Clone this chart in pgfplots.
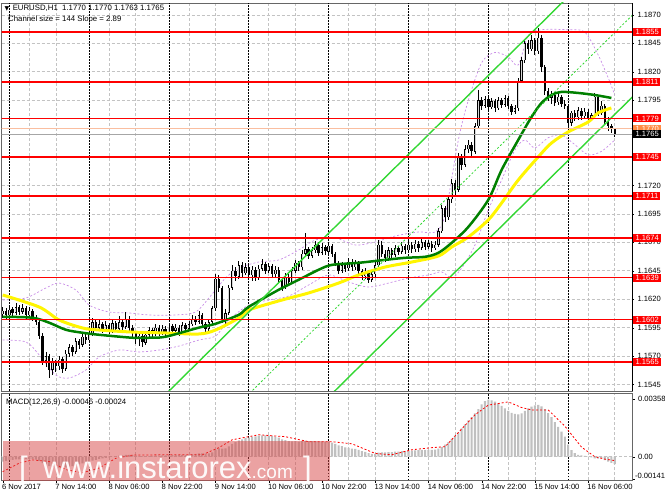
\documentclass[border=0pt]{standalone}
\usepackage{pgfplots}
\pgfplotsset{compat=1.18}
\usepackage{pgfplotstable}
\usepackage{fontspec}
\setmainfont{Liberation Sans}
\newfontfamily\symfont{DejaVu Sans}

\definecolor{levelred}{RGB}{255,0,0}
\definecolor{magreen}{RGB}{0,128,0}
\definecolor{mayellow}{RGB}{255,245,0}
\definecolor{chgreen}{RGB}{50,215,50}
\definecolor{bandviolet}{RGB}{200,140,230}
\definecolor{histgray}{RGB}{192,192,192}
\definecolor{gridgray}{RGB}{195,195,195}
\definecolor{wmred}{RGB}{215,70,70}
\definecolor{askorange}{RGB}{255,140,70}
\definecolor{asksalmon}{RGB}{250,190,160}
\definecolor{bullfill}{RGB}{215,215,215}

\newcommand{\lab}{\fontsize{7.6}{9}\selectfont}

% EURUSD H1 candles: bar index, open, high, low, close, MACD main
\pgfplotstableread{
i o h l c m
0 1.1607 1.1613 1.1604 1.1610 -0.00030
1 1.1610 1.1612 1.1603 1.1606 -0.00026
2 1.1606 1.1614 1.1604 1.1611 -0.00022
3 1.1611 1.1613 1.1605 1.1608 -0.00020
4 1.1608 1.1617 1.1606 1.1613 -0.00017
5 1.1613 1.1615 1.1606 1.1609 -0.00016
6 1.1609 1.1616 1.1607 1.1612 -0.00014
7 1.1612 1.1614 1.1603 1.1606 -0.00015
8 1.1606 1.1613 1.1604 1.1610 -0.00013
9 1.1610 1.1611 1.1601 1.1604 -0.00015
10 1.1604 1.1606 1.1597 1.1600 -0.00018
11 1.1600 1.1602 1.1585 1.1588 -0.00026
12 1.1588 1.1590 1.1562 1.1566 -0.00040
13 1.1566 1.1574 1.1560 1.1570 -0.00048
14 1.1570 1.1572 1.1551 1.1558 -0.00058
15 1.1558 1.1568 1.1553 1.1565 -0.00063
16 1.1565 1.1567 1.1556 1.1561 -0.00067
17 1.1561 1.1570 1.1558 1.1567 -0.00068
18 1.1567 1.1569 1.1555 1.1559 -0.00070
19 1.1559 1.1575 1.1557 1.1572 -0.00066
20 1.1572 1.1581 1.1569 1.1578 -0.00061
21 1.1578 1.1580 1.1570 1.1574 -0.00058
22 1.1574 1.1586 1.1572 1.1583 -0.00052
23 1.1583 1.1585 1.1576 1.1580 -0.00048
24 1.1580 1.1590 1.1578 1.1587 -0.00042
25 1.1587 1.1589 1.1581 1.1584 -0.00038
26 1.1584 1.1593 1.1582 1.1590 -0.00032
27 1.1590 1.1604 1.1588 1.1600 -0.00024
28 1.1600 1.1603 1.1592 1.1595 -0.00019
29 1.1595 1.1602 1.1593 1.1598 -0.00014
30 1.1598 1.1600 1.1590 1.1593 -0.00011
31 1.1593 1.1601 1.1591 1.1597 -0.00007
32 1.1597 1.1599 1.1589 1.1592 -0.00004
33 1.1592 1.1603 1.1590 1.1599 0.00000
34 1.1599 1.1601 1.1591 1.1594 0.00003
35 1.1594 1.1605 1.1592 1.1600 0.00006
36 1.1600 1.1602 1.1593 1.1596 0.00008
37 1.1596 1.1609 1.1594 1.1603 0.00011
38 1.1603 1.1605 1.1592 1.1595 0.00011
39 1.1595 1.1597 1.1587 1.1590 0.00009
40 1.1590 1.1592 1.1581 1.1585 0.00006
41 1.1585 1.1591 1.1579 1.1588 0.00005
42 1.1588 1.1590 1.1578 1.1582 0.00003
43 1.1582 1.1592 1.1580 1.1589 0.00003
44 1.1589 1.1596 1.1586 1.1593 0.00004
45 1.1593 1.1595 1.1587 1.1590 0.00005
46 1.1590 1.1598 1.1588 1.1595 0.00006
47 1.1595 1.1597 1.1588 1.1591 0.00007
48 1.1591 1.1597 1.1589 1.1594 0.00008
49 1.1594 1.1596 1.1587 1.1590 0.00008
50 1.1590 1.1599 1.1588 1.1596 0.00009
51 1.1596 1.1598 1.1589 1.1592 0.00009
52 1.1592 1.1598 1.1590 1.1595 0.00010
53 1.1595 1.1597 1.1588 1.1591 0.00010
54 1.1591 1.1600 1.1589 1.1597 0.00011
55 1.1597 1.1599 1.1591 1.1594 0.00012
56 1.1594 1.1601 1.1592 1.1598 0.00013
57 1.1598 1.1606 1.1596 1.1603 0.00015
58 1.1603 1.1605 1.1597 1.1600 0.00017
59 1.1600 1.1610 1.1598 1.1606 0.00020
60 1.1606 1.1608 1.1595 1.1598 0.00020
61 1.1598 1.1600 1.1590 1.1594 0.00019
62 1.1594 1.1603 1.1592 1.1600 0.00021
63 1.1600 1.1614 1.1598 1.1612 0.00027
64 1.1612 1.1642 1.1610 1.1638 0.00042
65 1.1638 1.1641 1.1626 1.1630 0.00052
66 1.1630 1.1632 1.1599 1.1602 0.00050
67 1.1602 1.1611 1.1598 1.1608 0.00052
68 1.1608 1.1633 1.1606 1.1630 0.00064
69 1.1630 1.1650 1.1628 1.1645 0.00080
70 1.1645 1.1648 1.1636 1.1640 0.00090
71 1.1640 1.1654 1.1638 1.1650 0.00102
72 1.1650 1.1653 1.1640 1.1643 0.00108
73 1.1643 1.1652 1.1641 1.1648 0.00115
74 1.1648 1.1650 1.1638 1.1641 0.00119
75 1.1641 1.1649 1.1636 1.1646 0.00124
76 1.1646 1.1648 1.1636 1.1639 0.00126
77 1.1639 1.1650 1.1637 1.1647 0.00130
78 1.1647 1.1655 1.1645 1.1651 0.00133
79 1.1651 1.1653 1.1642 1.1645 0.00132
80 1.1645 1.1652 1.1643 1.1649 0.00131
81 1.1649 1.1651 1.1639 1.1642 0.00128
82 1.1642 1.1649 1.1640 1.1646 0.00125
83 1.1646 1.1648 1.1634 1.1637 0.00118
84 1.1637 1.1639 1.1627 1.1631 0.00108
85 1.1631 1.1643 1.1629 1.1640 0.00103
86 1.1640 1.1642 1.1632 1.1635 0.00097
87 1.1635 1.1648 1.1633 1.1645 0.00095
88 1.1645 1.1655 1.1643 1.1652 0.00096
89 1.1652 1.1654 1.1645 1.1648 0.00094
90 1.1648 1.1663 1.1646 1.1660 0.00097
91 1.1660 1.1678 1.1658 1.1664 0.00100
92 1.1664 1.1666 1.1655 1.1658 0.00097
93 1.1658 1.1666 1.1656 1.1663 0.00096
94 1.1663 1.1671 1.1661 1.1668 0.00097
95 1.1668 1.1670 1.1658 1.1661 0.00094
96 1.1661 1.1669 1.1659 1.1666 0.00093
97 1.1666 1.1668 1.1659 1.1662 0.00090
98 1.1662 1.1670 1.1660 1.1667 0.00090
99 1.1667 1.1669 1.1657 1.1660 0.00087
100 1.1660 1.1662 1.1649 1.1652 0.00080
101 1.1652 1.1654 1.1642 1.1645 0.00070
102 1.1645 1.1653 1.1643 1.1650 0.00065
103 1.1650 1.1652 1.1644 1.1647 0.00058
104 1.1647 1.1656 1.1645 1.1653 0.00055
105 1.1653 1.1655 1.1645 1.1648 0.00050
106 1.1648 1.1655 1.1646 1.1652 0.00048
107 1.1652 1.1654 1.1642 1.1645 0.00042
108 1.1645 1.1647 1.1637 1.1640 0.00035
109 1.1640 1.1647 1.1638 1.1644 0.00030
110 1.1644 1.1646 1.1634 1.1637 0.00022
111 1.1637 1.1645 1.1635 1.1642 0.00018
112 1.1642 1.1653 1.1640 1.1650 0.00017
113 1.1650 1.1672 1.1648 1.1668 0.00025
114 1.1668 1.1671 1.1657 1.1660 0.00027
115 1.1660 1.1663 1.1653 1.1656 0.00027
116 1.1656 1.1666 1.1654 1.1663 0.00029
117 1.1663 1.1665 1.1656 1.1659 0.00029
118 1.1659 1.1668 1.1657 1.1665 0.00031
119 1.1665 1.1667 1.1659 1.1662 0.00032
120 1.1662 1.1670 1.1660 1.1667 0.00034
121 1.1667 1.1669 1.1660 1.1663 0.00034
122 1.1663 1.1671 1.1661 1.1668 0.00036
123 1.1668 1.1670 1.1661 1.1664 0.00037
124 1.1664 1.1672 1.1662 1.1669 0.00039
125 1.1669 1.1671 1.1662 1.1665 0.00040
126 1.1665 1.1673 1.1663 1.1670 0.00042
127 1.1670 1.1672 1.1663 1.1666 0.00042
128 1.1666 1.1672 1.1664 1.1669 0.00043
129 1.1669 1.1671 1.1662 1.1665 0.00043
130 1.1665 1.1671 1.1663 1.1668 0.00044
131 1.1668 1.1683 1.1666 1.1680 0.00050
132 1.1680 1.1703 1.1678 1.1700 0.00060
133 1.1700 1.1702 1.1688 1.1692 0.00075
134 1.1692 1.1711 1.1690 1.1708 0.00090
135 1.1708 1.1726 1.1705 1.1722 0.00110
136 1.1722 1.1725 1.1712 1.1716 0.00130
137 1.1716 1.1749 1.1714 1.1745 0.00150
138 1.1745 1.1748 1.1734 1.1738 0.00175
139 1.1738 1.1756 1.1736 1.1752 0.00200
140 1.1752 1.1760 1.1749 1.1756 0.00225
141 1.1756 1.1758 1.1746 1.1750 0.00245
142 1.1750 1.1775 1.1748 1.1772 0.00268
143 1.1772 1.1804 1.1770 1.1795 0.00295
144 1.1795 1.1798 1.1786 1.1790 0.00325
145 1.1790 1.1799 1.1788 1.1796 0.00345
146 1.1796 1.1798 1.1786 1.1789 0.00354
147 1.1789 1.1797 1.1787 1.1794 0.00350
148 1.1794 1.1796 1.1785 1.1788 0.00342
149 1.1788 1.1798 1.1786 1.1795 0.00330
150 1.1795 1.1797 1.1788 1.1791 0.00315
151 1.1791 1.1800 1.1789 1.1797 0.00300
152 1.1797 1.1799 1.1787 1.1790 0.00285
153 1.1790 1.1792 1.1782 1.1785 0.00272
154 1.1785 1.1791 1.1783 1.1788 0.00265
155 1.1788 1.1815 1.1786 1.1812 0.00262
156 1.1812 1.1833 1.1810 1.1830 0.00268
157 1.1830 1.1849 1.1828 1.1845 0.00285
158 1.1845 1.1848 1.1836 1.1840 0.00300
159 1.1840 1.1852 1.1838 1.1848 0.00310
160 1.1848 1.1850 1.1835 1.1838 0.00318
161 1.1838 1.1859 1.1836 1.1850 0.00322
162 1.1850 1.1852 1.1820 1.1824 0.00312
163 1.1824 1.1826 1.1800 1.1803 0.00295
164 1.1803 1.1806 1.1794 1.1797 0.00270
165 1.1797 1.1803 1.1792 1.1800 0.00245
166 1.1800 1.1802 1.1790 1.1793 0.00215
167 1.1793 1.1801 1.1791 1.1798 0.00185
168 1.1798 1.1800 1.1789 1.1792 0.00155
169 1.1792 1.1795 1.1787 1.1790 0.00124
170 1.1790 1.1792 1.1769 1.1775 0.00075
171 1.1775 1.1786 1.1772 1.1784 0.00040
172 1.1784 1.1786 1.1777 1.1780 0.00022
173 1.1780 1.1789 1.1778 1.1786 0.00012
174 1.1786 1.1788 1.1778 1.1781 0.00008
175 1.1781 1.1788 1.1779 1.1785 0.00005
176 1.1785 1.1787 1.1776 1.1779 0.00002
177 1.1779 1.1784 1.1777 1.1782 -0.00005
178 1.1782 1.1801 1.1780 1.1798 -0.00010
179 1.1798 1.1800 1.1781 1.1784 -0.00012
180 1.1784 1.1794 1.1782 1.1790 -0.00008
181 1.1790 1.1792 1.1774 1.1776 -0.00022
182 1.1776 1.1780 1.1768 1.1772 -0.00030
183 1.1772 1.1774 1.1766 1.1770 -0.00038
184 1.1770 1.1770 1.1763 1.1765 -0.00046
}\candles

\begin{document}
\begin{tikzpicture}[x=1pt,y=1pt]
\path[use as bounding box] (0,0) rectangle (665,499);

% ---------------- price pane ----------------
\begin{axis}[
  at={(1.5pt,108pt)}, anchor=south west, scale only axis,
  width=630.5pt, height=388pt,
  xmin=-0.35, xmax=189.2, ymin=1.153926, ymax=1.188051,
  axis line style={black!60, line width=0.8pt},
  tick label style={font=\lab},
  grid=major,
  grid style={gridgray, dash pattern=on 3pt off 2pt, line width=0.6pt},
  xtick={8,16,32,40,56,64,80,88,104,112,128,136,152,160,176,184},
  xticklabels={}, xtick style={draw=none},
  extra x ticks={2,26,50,74,98,122,146,170},
  extra x tick labels={},
  extra x tick style={grid=major, tick style={draw=none},
    grid style={black, dash pattern=on 1.5pt off 1.5pt, line width=0.7pt}},
  ytick={1.1545,1.157,1.1595,1.162,1.1645,1.167,1.1695,1.172,1.1745,1.177,1.1795,1.182,1.1845,1.187},
  yticklabels={1.1545,1.1570,1.1595,1.1620,1.1645,1.1670,1.1695,1.1720,,,1.1795,1.1820,1.1845,1.1870},
  ytick pos=right, yticklabel pos=right, tick align=outside,
  major tick length=2pt, ytick style={black},
  extra y ticks={1.1565,1.1602,1.1639,1.1674,1.1711,1.1745,1.1779,1.1811,1.1855},
  extra y tick labels={1.1565,1.1602,1.1639,1.1674,1.1711,1.1745,1.1779,1.1811,1.1855},
  extra y tick style={grid=none, tick style={draw=none},
    yticklabel style={fill=levelred, text=white, inner xsep=2.2pt, inner ysep=1pt,
      text height=5.6pt, text depth=0.4pt, xshift=-0.8pt}},
]
% Bollinger-type envelope (violet dashed)
\addplot[bandviolet, line width=0.7pt, dash pattern=on 2pt off 2pt, smooth] coordinates {
(0,1.16193) (7,1.16211) (13,1.16299) (17,1.16342) (22,1.16281) (26,1.16149) (32,1.16087)
(38,1.16079) (44,1.16061) (52,1.16061) (58,1.16087) (62,1.16211) (67,1.16386) (71,1.16474)
(77,1.16527) (83,1.16545) (89,1.16633) (94,1.16721) (100,1.16738) (106,1.16677) (112,1.16703)
(118,1.16756) (125,1.16791) (130,1.16791) (133,1.16941) (137,1.17600) (140,1.17950) (144,1.18280)
(148,1.18370) (152,1.18330) (155,1.18260) (158,1.18520) (162,1.18570) (170,1.18570) (175,1.18550)
(179,1.18350) (182,1.18150) (184,1.18000)};
\addplot[bandviolet, line width=0.7pt, dash pattern=on 2pt off 2pt, smooth] coordinates {
(0,1.15841) (7,1.15824) (11,1.15709) (16,1.15533) (20,1.15507) (25,1.15577) (29,1.15692)
(35,1.15753) (41,1.15736) (47,1.15753) (53,1.15788) (59,1.15841) (64,1.15876) (68,1.16017)
(74,1.16149) (80,1.16193) (86,1.16228) (92,1.16325) (98,1.16413) (104,1.16351) (110,1.16307)
(116,1.16342) (122,1.16386) (128,1.16413) (132,1.16440) (135,1.16386) (138,1.16474) (142,1.16677)
(146,1.16985) (150,1.17248) (154,1.17512) (157,1.17600) (160,1.17530) (164,1.17620) (168,1.17644)
(172,1.17560) (176,1.17470) (180,1.17500) (184,1.17600)};

% candles: wicks, bodies, hollow part of bull bodies
\addplot[draw=none, mark=none, forget plot,
  error bars/.cd, y dir=both, y explicit, error mark=none,
  error bar style={draw=black, line width=0.8pt}]
  table[x=i, y expr={(\thisrow{h}+\thisrow{l})/2}, y error expr={(\thisrow{h}-\thisrow{l})/2}] {\candles};
\addplot[draw=none, mark=none, forget plot,
  error bars/.cd, y dir=both, y explicit, error mark=none,
  error bar style={draw=black, line width=2.4pt}]
  table[x=i, y expr={(\thisrow{o}+\thisrow{c})/2}, y error expr={max(abs(\thisrow{c}-\thisrow{o})/2,0.00001)}] {\candles};
\addplot[draw=none, mark=none, forget plot,
  error bars/.cd, y dir=both, y explicit, error mark=none,
  error bar style={draw=bullfill, line width=1.0pt}]
  table[x=i, y expr={(\thisrow{o}+\thisrow{c})/2}, y error expr={max((\thisrow{c}-\thisrow{o})/2-0.00005,0)}] {\candles};

% moving averages
\addplot[mayellow, line width=3pt, smooth] coordinates {
(0,1.16237) (11,1.16131) (17,1.16017) (24,1.15947) (29,1.15929) (39,1.15911) (49,1.15903)
(59,1.15894) (64,1.15929) (71,1.16035) (74,1.16105) (84,1.16193) (92,1.16255) (101,1.16342)
(107,1.16413) (115,1.16483) (123,1.16527) (131,1.16580) (135,1.16659) (140,1.16747) (146,1.16897)
(150,1.17046) (155,1.17248) (161,1.17451) (165,1.17574) (170,1.17671) (176,1.17758) (179,1.17838)
(183,1.17882)};
\addplot[magreen, line width=2.5pt, smooth] coordinates {
(0,1.16045) (9,1.16037) (14,1.15993) (19,1.15931) (24,1.15905) (29,1.15887) (39,1.15861)
(44,1.15861) (49,1.15870) (59,1.15950) (64,1.15984) (71,1.16063) (74,1.16133) (83,1.16283)
(89,1.16371) (95,1.16459) (99,1.16502) (107,1.16520) (115,1.16546) (121,1.16564) (127,1.16573)
(131,1.16608) (135,1.16696) (140,1.16836) (146,1.17074) (150,1.17337) (155,1.17601) (159,1.17803)
(162,1.17926) (165,1.17996) (168,1.18023) (173,1.18014) (178,1.17996) (183,1.17970)};

% regression channel
\addplot[chgreen, line width=1.4pt] coordinates {(45,1.15248) (175,1.19005)};
\addplot[chgreen, line width=1.4pt] coordinates {(95,1.15253) (190,1.17998)};
\addplot[chgreen, line width=0.8pt, dash pattern=on 2pt off 2pt] coordinates {(70,1.15250) (190,1.18718)};

% horizontal levels
\pgfplotsinvokeforeach{1.1565,1.1602,1.1639,1.1674,1.1711,1.1745,1.1779,1.1811,1.1855}{
  \addplot[levelred, line width=1.6pt] coordinates {(-1,#1) (190,#1)};
}
\addplot[asksalmon, line width=1.6pt] coordinates {(-1,1.1770) (190,1.1770)};
\addplot[black!35, line width=0.6pt] coordinates {(-1,1.1765) (190,1.1765)};

\node[anchor=west, font=\fontsize{7.8}{9}\selectfont, inner sep=0pt] at (rel axis cs:0,1)
  [xshift=3pt, yshift=-5.5pt] {{\symfont\fontsize{6}{6}\selectfont ▼}\ \,EURUSD,H1\ \ 1.1770 1.1770 1.1763 1.1765};
\node[anchor=west, font=\fontsize{7.8}{9}\selectfont, inner sep=0pt] at (rel axis cs:0,1)
  [xshift=6.5pt, yshift=-16.5pt] {Channel size = 144 Slope = 2.89};
\end{axis}

% current price labels on top of the level labels
\begin{axis}[
  at={(1.5pt,108pt)}, anchor=south west, scale only axis,
  width=630.5pt, height=388pt,
  xmin=-0.35, xmax=189.2, ymin=1.153926, ymax=1.188051,
  axis x line=none, axis y line*=right,
  y axis line style={black, line width=0.8pt},
  tick label style={font=\lab},
  tick style={draw=none}, major tick length=2pt, tick align=outside,
  ytick={1.1770}, yticklabels={1.1770},
  yticklabel style={fill=askorange, text=white, inner xsep=2.2pt, inner ysep=1pt,
      text height=5.6pt, text depth=0.4pt, xshift=-0.8pt},
  extra y ticks={1.1765}, extra y tick labels={1.1765},
  extra y tick style={yticklabel style={fill=black, text=white}},
]
\addplot[draw=none] coordinates {(0,1.1765)};
\end{axis}

% ---------------- MACD pane ----------------
\begin{axis}[
  at={(1.5pt,19pt)}, anchor=south west, scale only axis,
  width=630.5pt, height=87pt,
  xmin=-0.35, xmax=189.2, ymin=-0.001446, ymax=0.003952,
  axis line style={black!60, line width=0.8pt},
  tick label style={font=\lab},
  scaled y ticks=false,
  xtick={0,16,32,48,64,80,96,112,128,144,160,176},
  xticklabels={6 Nov 2017,7 Nov 14:00,8 Nov 06:00,8 Nov 22:00,9 Nov 14:00,10 Nov 06:00,10 Nov 22:00,13 Nov 14:00,14 Nov 06:00,14 Nov 22:00,15 Nov 14:00,16 Nov 06:00},
  xticklabel style={anchor=north west, inner xsep=0pt, inner ysep=1.5pt, xshift=-0.8pt},
  xtick pos=bottom, tick align=outside, major tick length=2.5pt, tick style={black},
  minor xtick={8,16,32,40,56,64,80,88,104,112,128,136,152,160,176,184},
  xminorgrids, minor tick length=0pt,
  minor grid style={gridgray, dash pattern=on 3pt off 2pt, line width=0.6pt},
  extra x ticks={2,26,50,74,98,122,146,170},
  extra x tick labels={},
  extra x tick style={grid=major, tick style={draw=none},
    grid style={black, dash pattern=on 1.5pt off 1.5pt, line width=0.7pt}},
  ytick={-0.00141,0,0.00358},
  yticklabels={\raisebox{7pt}{\kern-3pt-0.00141},0.00,0.00358},
  ytick pos=right, yticklabel pos=right,
]
\addplot[gridgray, dash pattern=on 3pt off 2pt, line width=0.6pt] coordinates {(-1,0) (190,0)};
\addplot[ybar, bar width=2.1pt, bar shift=0pt, fill=histgray, draw=none] table[x=i, y=m] {\candles};
\addplot[red, line width=0.8pt, dash pattern=on 2pt off 2pt] coordinates {
(0,-0.00093) (5,-0.00040) (9,-0.00020) (14,-0.00030) (19,-0.00080) (24,-0.00100) (29,-0.00070)
(34,-0.00010) (39,0.00010) (50,0.00012) (60,0.00012) (65,0.00056) (69,0.00105) (77,0.00136)
(85,0.00124) (92,0.00093) (99,0.00093) (105,0.00080) (112,0.00020) (117,0.00012) (123,0.00043)
(129,0.00056) (133,0.00062) (137,0.00150) (142,0.00260) (146,0.00320) (152,0.00340) (156,0.00305)
(159,0.00290) (164,0.00290) (169,0.00190) (174,0.00060) (178,0.00000) (181,-0.00015) (184,-0.00024)};
\node[anchor=west, font=\fontsize{7.8}{9}\selectfont, inner sep=0pt] at (rel axis cs:0,1)
  [xshift=4.5pt, yshift=-9pt] {MACD(12,26,9) -0.00046 -0.00024};
\end{axis}

% watermark
\fill[wmred, opacity=0.5] (3,18) rectangle (330,58);
\node[anchor=base west, inner sep=0pt, text=white, opacity=0.95, font=\fontsize{31}{31}\selectfont] at (19,21) {[};
\node[anchor=base west, inner sep=0pt, text=white, opacity=0.95, font=\fontsize{31}{31}\selectfont] at (43,21)
  {www.instaforex{\fontsize{19}{19}\selectfont.com}};
\node[anchor=base west, inner sep=0pt, text=white, opacity=0.95, font=\fontsize{31}{31}\selectfont] at (303,21) {]};
\end{tikzpicture}
\end{document}
